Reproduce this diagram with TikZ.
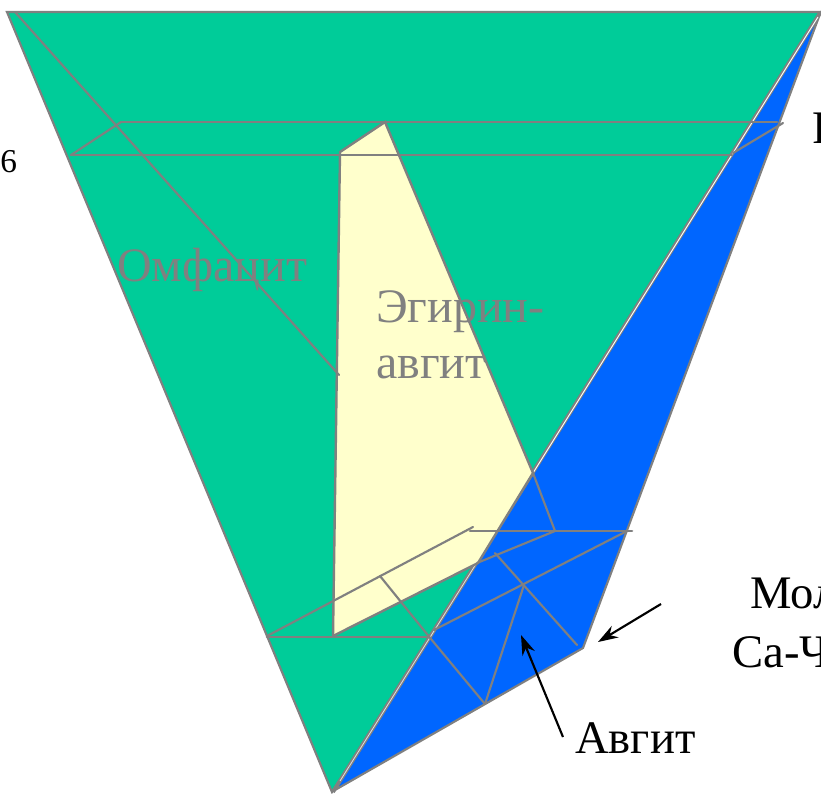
\documentclass[tikz,border=0pt]{standalone}
\usepackage{fontspec}
\setmainfont{Liberation Serif}
\usetikzlibrary{arrows.meta}
\definecolor{grn}{HTML}{00CC99}
\definecolor{blu}{HTML}{0066FF}
\definecolor{yel}{HTML}{FFFFCC}
\definecolor{gry}{HTML}{808080}
\tikzset{
  ln/.style={draw=gry,line width=2pt,line cap=round},
  lnt/.style={draw=gry,line width=1.6pt,line cap=round},
  lab/.style={font=\fontsize{35}{40}\selectfont,inner sep=0pt,anchor=base west},
  labg/.style={font=\fontsize{36}{40}\selectfont,inner sep=0pt,anchor=base west,text=gry},
  arr/.style={draw=black,line width=1.6pt,-{Stealth[length=15pt,width=10pt]}}
}
\begin{document}
\begin{tikzpicture}[x=0.75pt,y=-0.75pt]
\useasboundingbox (0,0) rectangle (821,793);
\clip (0,0) rectangle (821,793);
% fills
\filldraw[fill=grn,draw=gry,line width=1.6pt] (7,12) -- (820,12) -- (332,792) -- cycle;
\filldraw[fill=blu,draw=gry,line width=1.6pt] (820,14) -- (583,648) -- (335,790) -- cycle;
% shared edge: two grey lines with a thin light gap
\draw[gry,line width=2.8pt] (820,13) -- (333,792);
\draw[white,line width=0.7pt] (818,17) -- (533,473);
\draw[white!75!gry,line width=0.6pt] (533,473) -- (340,781);
\filldraw[fill=yel,draw=gry,line width=1.8pt] (340,152) -- (385,122) -- (533,473) -- (478,563) -- (333,636) -- cycle;
% lines
\draw[ln] (7,12) -- (820,12);
\draw[lnt] (15,12) -- (339,375);
\draw[ln] (121,122) -- (777,122);
\draw[ln] (71,155) -- (732,155);
\draw[lnt] (71,155) -- (121,122);
\draw[lnt] (733,153) -- (783,123);
\draw[ln] (267,637) -- (428,637);
\draw[lnt] (267,636) -- (473,527);
\draw[ln] (470,531) -- (632,531);
\draw[lnt] (477,563) -- (555,531);
\draw[lnt] (533,473) -- (555,531);
\draw[lnt] (434,630) -- (627,531);
\draw[lnt] (380,576) -- (431,639);
\draw[lnt] (431,639) -- (485,704);
\draw[lnt] (485,704) -- (524,585);
\draw[lnt] (495,553) -- (577,645);
% arrows
\draw[arr] (661,604) -- (598,642);
\draw[arr] (563,737) -- (521,635);
% labels
\node[labg] (omf) at (117,281) {Омфацит};
\node[labg] (eg1) at (376,322) {Эгирин-};
\node[labg] (eg2) at (376,378) {авгит};
\node[lab] (avg) at (575,753) {Авгит};
\node[lab] (mol) at (750,608) {Мол};
\node[lab] (cafe) at (732,667) {Ca-Ч};
\node[lab] (top) at (812,143) {Р};
\node[font=\fontsize{25}{28}\selectfont,inner sep=0pt,anchor=base west] (six) at (0,172) {6};
\end{tikzpicture}
\end{document}
